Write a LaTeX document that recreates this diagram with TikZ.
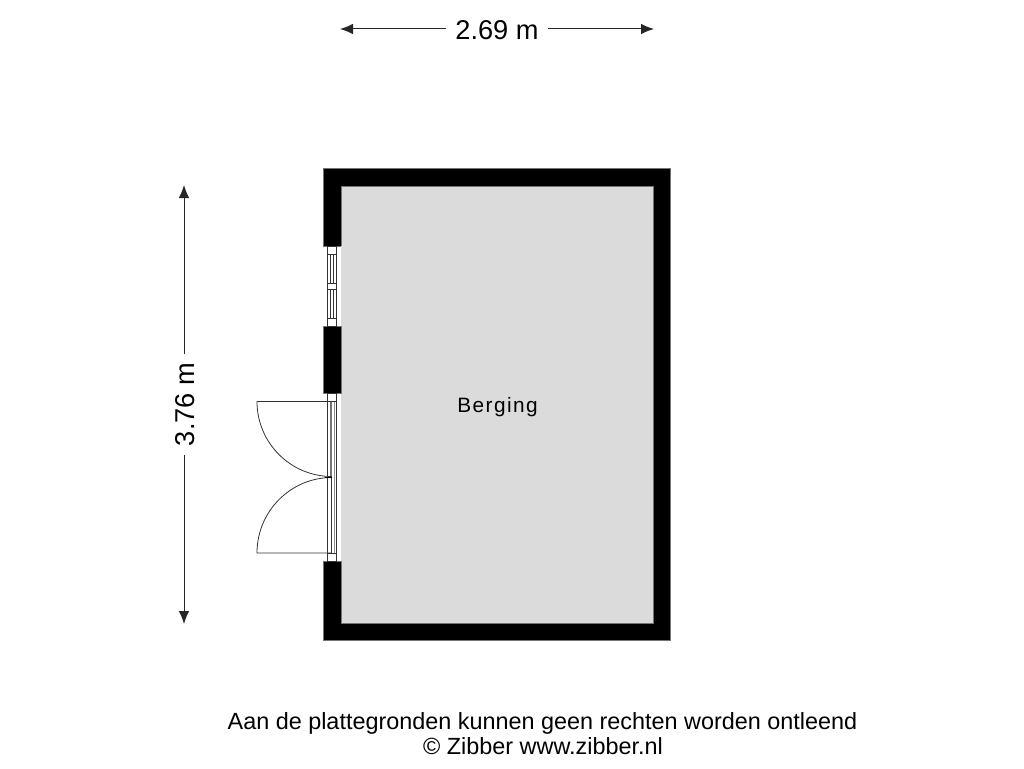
\documentclass[tikz,border=0pt]{standalone}
\usepackage{fontspec}
\setmainfont{Liberation Sans}
\usetikzlibrary{arrows.meta}
\begin{document}
\begin{tikzpicture}[x=1pt,y=-1pt,
  wallpart/.style={fill=black,draw=black!55,line width=.6pt},
  thin line/.style={draw=black!80,line width=.8pt},
  dim/.style={draw=black!85,line width=1pt,-{Latex[length=13pt,width=10.5pt]}},
  dimlabel/.style={font=\fontsize{27.2}{30}\selectfont,inner xsep=9pt,inner ysep=0pt},
  foot/.style={font=\fontsize{23.4}{26}\selectfont,inner sep=0pt,anchor=base}]
\useasboundingbox (0,0) rectangle (1024,768);
% walls
\path[wallpart] (323.5,168.5) -- (670,168.5) -- (670,640) -- (323.5,640) -- (323.5,561) -- (341,561) -- (341,623) -- (653,623) -- (653,186) -- (341,186) -- (341,246) -- (323.5,246) -- cycle;
\fill[black!14] (341,186) rectangle (653,623);
\draw[black!55,line width=.6pt] (341,246) -- (341,186) -- (653,186) -- (653,623) -- (341,623) -- (341,561);
\path[wallpart] (323.5,326) rectangle (341,393);
% window
\draw[thin line] (327.5,246) rectangle (336.7,326);
\foreach \a/\b in {254/283,289/318}{
  \draw[thin line] (327.5,\a) rectangle (336.7,\b);
  \draw[thin line,line width=.6pt] (330.2,\a) -- (330.2,\b);
  \draw[thin line,line width=.6pt] (333.4,\a) -- (333.4,\b);
}
% door
\draw[thin line] (327.5,393) rectangle (336.7,561);
\draw[thin line] (327.5,401.5) -- (336.7,401.5);
\draw[thin line] (327.5,553) -- (336.7,553);
\draw[draw=black!55,line width=1.4pt] (331,401.5) -- (331,477);
\draw[draw=black!45,line width=1.4pt] (334.5,401.5) -- (334.5,553);
\draw[thin line,line width=.7pt] (331.5,477) -- (331.5,553);
% door leaves
\draw[thin line] (332,401.5) -- (257,401.5) arc[start angle=180,end angle=270,x radius=75,y radius=-75];
\draw[thin line] (332,553) -- (257,553) arc[start angle=180,end angle=90,x radius=75,y radius=-75.5];
\draw[draw=black,line width=1pt] (325,477) -- (332,477);
% labels
\node[font=\fontsize{20.8}{24}\selectfont\addfontfeature{LetterSpace=7}] (room) at (497.5,407.5) {Berging};
% dimensions
\coordinate (hl) at (340,29);
\coordinate (hr) at (654,29);
\coordinate (vt) at (184,185);
\coordinate (vb) at (184,624);
\node[dimlabel] (hdim) at (497,30) {2.69 m};
\node[dimlabel,rotate=90] (vdim) at (185,404.5) {3.76 m};
\draw[dim] (hdim.west |- hl) -- (hl);
\draw[dim] (hdim.east |- hr) -- (hr);
\draw[dim] (vt |- vdim.east) -- (vt);
\draw[dim] (vb |- vdim.west) -- (vb);
% footer
\node[foot] (f1) at (542.5,729) {Aan de plattegronden kunnen geen rechten worden ontleend};
\node[foot] (f2) at (543,754) {© Zibber www.zibber.nl};
\end{tikzpicture}
\end{document}
